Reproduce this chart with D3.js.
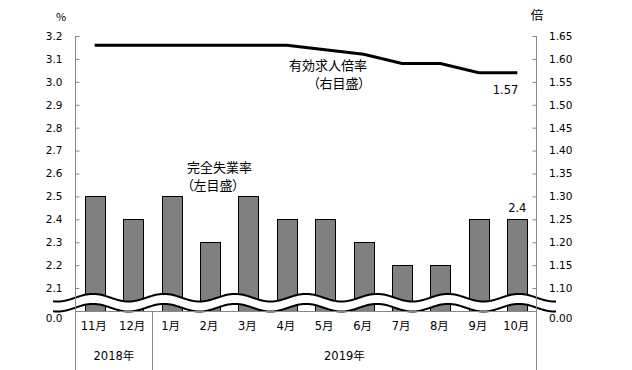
<!DOCTYPE html>
<html><head><meta charset="utf-8">
<script src="https://cdn.jsdelivr.net/npm/d3@7"></script>
<style>
html,body{margin:0;padding:0;background:#fff;}
svg{display:block;}
text{font-family:"DejaVu Sans","Noto Sans CJK JP",sans-serif;fill:#000;}
.jp{font-family:"Noto Sans CJK JP",sans-serif;font-feature-settings:"palt";}
</style></head>
<body>
<script>
const months = ["11月","12月","1月","2月","3月","4月","5月","6月","7月","8月","9月","10月"];
const years = [{label:"2018年", from:0, to:2},{label:"2019年", from:2, to:12}];
const unemployment = [2.5,2.4,2.5,2.3,2.5,2.4,2.4,2.3,2.2,2.2,2.4,2.4];
const jobRatio = [1.63,1.63,1.63,1.63,1.63,1.63,1.62,1.61,1.59,1.59,1.57,1.57];
const leftTicks = [2.1,2.2,2.3,2.4,2.5,2.6,2.7,2.8,2.9,3.0,3.1,3.2];
const rightTicks = [1.10,1.15,1.20,1.25,1.30,1.35,1.40,1.45,1.50,1.55,1.60,1.65];
const leftBase = "0.0", rightBase = "0.00";

const W=632,H=370, L=75.5, R=536.5, T=36, B=311;
const svg = d3.select("body").append("svg").attr("width",W).attr("height",H);

const x = d3.scaleBand().domain(months).range([L,R]).paddingInner(0.48).paddingOuter(0.24);
const yL = d3.scaleLinear().domain([2.0,3.2]).range([B,T]);
const yR = d3.scaleLinear().domain([1.05,1.65]).range([B,T]);
const gray = "#878787";

// bars
svg.append("g").selectAll("rect").data(unemployment).join("rect")
  .attr("x",(d,i)=>Math.round(x(months[i]))+0.5)
  .attr("y",d=>Math.round(yL(d))+0.5)
  .attr("width",Math.round(x.bandwidth()))
  .attr("height",d=>B-Math.round(yL(d)))
  .attr("fill","#808080").attr("stroke","#000").attr("stroke-width",1);

// wave break
const wx0=53, wx1=556, period=71, phase=93;
const wpts = d3.range(wx0, wx1+0.5, 1);
const up = v => 297.7 - 3.8*Math.cos(2*Math.PI*(v-phase)/period);
const lo = v => up(v) + 10;
svg.append("path").datum(wpts)
  .attr("d", d3.area().x(d=>d).y0(d=>up(d)).y1(d=>lo(d)))
  .attr("fill","#fff");
[up,lo].forEach(f=>{
  svg.append("path").datum(wpts).attr("d", d3.line().x(d=>d).y(d=>f(d)))
   .attr("fill","none").attr("stroke","#000").attr("stroke-width",2);
});

// axes
const axL = d3.axisLeft(yL).tickValues(leftTicks).tickFormat(d3.format(".1f")).tickSizeInner(-4).tickSizeOuter(0).tickPadding(13);
const gL = svg.append("g").attr("transform",`translate(${L},0)`).call(axL);
const axR = d3.axisRight(yR).tickValues(rightTicks).tickFormat(d3.format(".2f")).tickSizeInner(-4).tickSizeOuter(0).tickPadding(12.5);
const gR = svg.append("g").attr("transform",`translate(${R},0)`).call(axR);
[gL,gR].forEach(g=>{
  g.select(".domain").remove();
  g.selectAll(".tick line").attr("stroke",gray);
  g.selectAll("text").attr("font-size",10.5).attr("fill","#000");
  g.attr("font-family",null);
});
gL.append("text").attr("x",-13).attr("y",B+8).attr("dy","0.32em").attr("text-anchor","end").attr("font-size",10.5).text(leftBase);
gR.append("text").attr("x",12.5).attr("y",B+8).attr("dy","0.32em").attr("text-anchor","start").attr("font-size",10.5).text(rightBase);

svg.append("line").attr("x1",L).attr("x2",L).attr("y1",T).attr("y2",H).attr("stroke",gray);
svg.append("line").attr("x1",R).attr("x2",R).attr("y1",T).attr("y2",H).attr("stroke",gray);
svg.append("line").attr("x1",L).attr("x2",R).attr("y1",B+0.5).attr("y2",B+0.5).attr("stroke",gray);

// category axis
const axB = d3.axisBottom(x).tickSize(0).tickPadding(11);
const gB = svg.append("g").attr("transform",`translate(-1,${B})`).call(axB);
gB.select(".domain").remove();
gB.attr("font-family",null);
gB.selectAll("text").attr("font-size",11.5);

// year groups
const xEdge = i => L + (R-L)*i/months.length;
years.forEach(yg=>{
  if(yg.from>0) svg.append("line").attr("x1",Math.round(xEdge(yg.from))+0.5).attr("x2",Math.round(xEdge(yg.from))+0.5)
     .attr("y1",B).attr("y2",H).attr("stroke",gray);
  svg.append("text").attr("x",(xEdge(yg.from)+xEdge(yg.to))/2).attr("y",360)
     .attr("text-anchor","middle").attr("font-size",11.5).text(yg.label);
});

// line
const cx = m => x(m)+x.bandwidth()/2;
svg.append("path").datum(jobRatio)
  .attr("d", d3.line().x((d,i)=>cx(months[i])).y(d=>yR(d)))
  .attr("fill","none").attr("stroke","#000").attr("stroke-width",3);

// unit labels
svg.append("text").attr("class","jp").attr("x",61).attr("y",21).attr("text-anchor","middle").attr("font-size",11).text("%");
svg.append("text").attr("class","jp").attr("x",537).attr("y",20).attr("text-anchor","middle").attr("font-size",12.5).text("倍");

// data labels
const last = months.length-1;
svg.append("text").attr("x",cx(months[last])).attr("y",yL(unemployment[last])-7)
  .attr("text-anchor","middle").attr("font-size",11.5).text(unemployment[last].toFixed(1));
svg.append("text").attr("x",cx(months[last])+1).attr("y",94)
  .attr("text-anchor","end").attr("font-size",11.5).text(jobRatio[last].toFixed(2));

// annotations
const ann = [
  {t:"完全失業率", x:187, y:172, a:"start"},
  {t:"（左目盛）", x:187, y:190, a:"start"},
  {t:"有効求人倍率", x:367, y:70, a:"end"},
  {t:"（右目盛）", x:365, y:88, a:"end"}
];
svg.selectAll(".ann").data(ann).join("text").attr("class","jp ann")
  .attr("x",d=>d.x).attr("y",d=>d.y).attr("text-anchor",d=>d.a).attr("font-size",13).text(d=>d.t);
</script>
</body></html>
